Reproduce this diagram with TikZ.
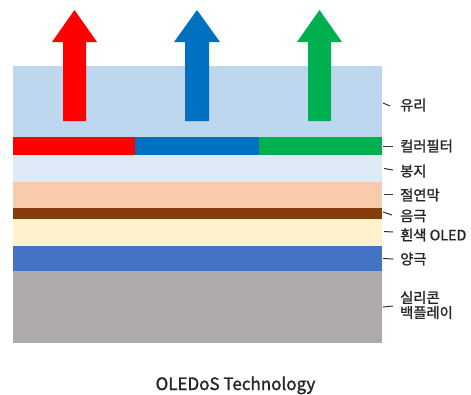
\documentclass[tikz,border=0pt]{standalone}
\usepackage{fontspec}
\setmainfont{Noto Sans CJK KR}[FakeBold=1.4]
\usetikzlibrary{calc}
\definecolor{cglass}{HTML}{BDD7EE}
\definecolor{cseal}{HTML}{DEEBF7}
\definecolor{cins}{HTML}{F8CBAD}
\definecolor{ccath}{HTML}{843C0C}
\definecolor{coled}{HTML}{FFF2CC}
\definecolor{canode}{HTML}{4472C4}
\definecolor{csil}{HTML}{AEAAAA}
\definecolor{cred}{HTML}{FF0000}
\definecolor{cblue}{HTML}{0070C0}
\definecolor{cgreen}{HTML}{00B050}
\definecolor{clead}{HTML}{333333}
\tikzset{
  layer/.style={draw=none, inner sep=0pt, outer sep=0pt, anchor=north west, minimum width=369pt},
  lbl/.style={anchor=west, inner sep=0pt, font=\fontsize{14.3}{16}\selectfont, text=black!85},
  lead/.style={draw=clead, line width=1pt},
}
\begin{document}
\begin{tikzpicture}[x=1pt,y=-1pt]
\useasboundingbox (0,0) rectangle (471,394);
% layers
\node[layer, fill=cglass, minimum height=71pt] (glass) at (13,66) {};
\node[layer, fill=cred, minimum width=122pt, minimum height=18pt] (cfr) at (13,137) {};
\node[layer, fill=cblue, minimum width=124pt, minimum height=18pt] (cfb) at (135,137) {};
\node[layer, fill=cgreen, minimum width=123pt, minimum height=18pt] (cfg) at (259,137) {};
\node[layer, fill=cseal, minimum height=27pt] (seal) at (13,155) {};
\node[layer, fill=cins, minimum height=26pt] (ins) at (13,182) {};
\node[layer, fill=ccath, minimum height=11pt] (cath) at (13,208) {};
\node[layer, fill=coled, minimum height=27pt] (oled) at (13,219) {};
\node[layer, fill=canode, minimum height=25pt] (anode) at (13,246) {};
\node[layer, fill=csil, minimum height=72pt] (sil) at (13,271) {};
% arrows
\fill[cred] (63,121) -- (63,42) -- (52,42) -- (74.5,10) -- (97,42) -- (86,42) -- (86,121) -- cycle;
\fill[cblue] (185,121) -- (185,42) -- (174,42) -- (197,10) -- (220,42) -- (209,42) -- (209,121) -- cycle;
\fill[cgreen] (308,121) -- (308,42) -- (297,42) -- (319.5,10) -- (342,42) -- (331,42) -- (331,121) -- cycle;
% labels
\node[lbl] (lglass) at (400,105) {유리};
\node[lbl] (lcf) at (400,146) {컬러필터};
\node[lbl] (lseal) at (400,171) {봉지};
\node[lbl] (lins) at (400,195) {절연막};
\node[lbl] (lcath) at (400,216) {음극};
\node[lbl] (loled) at (400,235) {흰색 OLED};
\node[lbl] (lanode) at (400,259) {양극};
\node[lbl, align=left] (lsil) at (400,305) {실리콘\\[-1pt]백플레이};
% leads
\draw[lead] ($(glass.east)+(1,1.5)$) -- ($(lglass.west)+(-10,1)$);
\draw[lead] ($(cfg.east)+(1,0)$) -- ($(lcf.west)+(-7,0)$);
\draw[lead] ($(seal.east)+(2,0)$) -- ($(lseal.west)+(-7,-1)$);
\draw[lead] ($(ins.east)+(2,-1)$) -- ($(lins.west)+(-7,-1)$);
\draw[lead] ($(cath.east)+(1,-1.5)$) -- ($(lcath.west)+(-8,-1)$);
\draw[lead] ($(oled.east)+(2,-1)$) -- ($(loled.west)+(-7,-3)$);
\draw[lead] ($(anode.east)+(1,0)$) -- ($(lanode.west)+(-7,0)$);
\draw[lead] ($(sil.east)+(1,0)$) -- ($(lsil.west)+(-7,1)$);
% title
\node[inner sep=0pt, anchor=base, font=\fontsize{17}{20}\selectfont, text=black!85] (title) at (235.5,390) {OLEDoS Technology};
\end{tikzpicture}
\end{document}
